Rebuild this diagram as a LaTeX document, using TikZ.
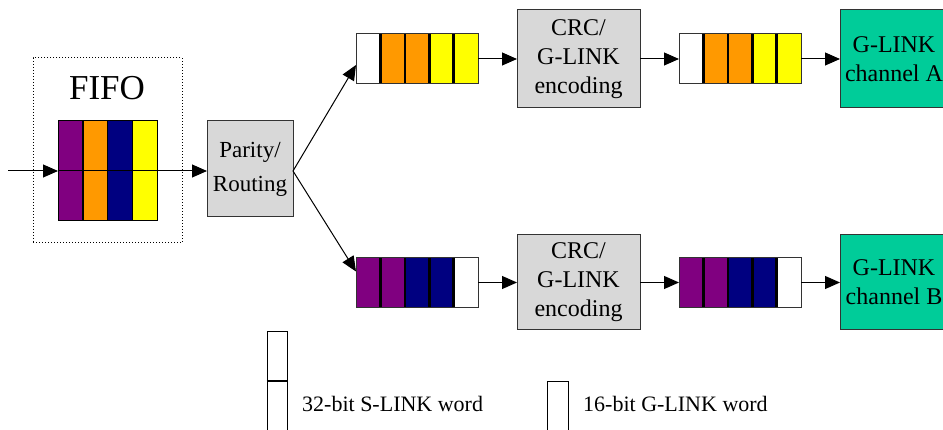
\documentclass[tikz,border=0pt]{standalone}
\usepackage{fontspec}
\setmainfont{Liberation Serif}
\newfontfamily\diagfont{Liberation Serif}
\usetikzlibrary{arrows.meta,calc}
\definecolor{wpurple}{RGB}{128,0,128}
\definecolor{worange}{RGB}{255,153,0}
\definecolor{wnavy}{RGB}{0,0,128}
\definecolor{wyellow}{RGB}{255,255,0}
\definecolor{gteal}{RGB}{0,204,153}
\definecolor{boxgray}{RGB}{216,216,216}

% a row of five word cells, named #1, centred at (#2,#3), colours #4
\newcommand{\wordrow}[4]{%
  \node[minimum width=122pt, minimum height=50pt, inner sep=0pt, outer sep=0pt] (#1) at (#2,#3) {};
  \foreach \c [count=\i from 0] in {#4}
    \fill[\c] ($(#1.north west)+(\i*24.4,0)$) rectangle ++(24.4,50);
  \foreach \i in {1,...,4}
    \draw[line width=2.6pt] ($(#1.north west)+(\i*24.4,0)$) -- ++(0,50);
  \draw[line width=1pt, draw=black!80] (#1.north west) rectangle (#1.south east);
}

\begin{document}
\begin{tikzpicture}[x=1pt,y=-1pt,
  box/.style={draw=black!80, line width=1pt, fill=boxgray, inner sep=0pt, outer sep=0pt,
    align=center, font=\diagfont\fontsize{24}{29}\selectfont},
  chan/.style={box, fill=gteal},
  flow/.style={-{Triangle[length=15pt,width=13pt]}, line width=1pt},
  legtext/.style={anchor=base west, inner sep=0pt, font=\diagfont\fontsize{22}{22}\selectfont},
]
\useasboundingbox (0,0) rectangle (943,430);

% FIFO block
\node[draw, dotted, line width=1pt, minimum width=149pt, minimum height=185pt,
  inner sep=0pt] (fifo) at (107.5,150.5) {};
\node[font=\diagfont\fontsize{35}{35}\selectfont, inner sep=0pt] (fifolbl) at (107,88) {FIFO};
\node[minimum width=99pt, minimum height=100pt, inner sep=0pt, outer sep=0pt] (fbar) at (107.5,171) {};
\foreach \c [count=\i from 0] in {wpurple,worange,wnavy,wyellow}
  \fill[\c] ($(fbar.north west)+(\i*24.75,0)$) rectangle ++(24.75,100);
\foreach \i in {1,2,3}
  \draw[line width=1.5pt] ($(fbar.north west)+(\i*24.75,0)$) -- ++(0,100);
\draw[line width=1pt] (fbar.west) -- (fbar.east);
\draw[line width=1pt] (fbar.north west) rectangle (fbar.south east);

% routing
\node[box, minimum width=86pt, minimum height=96pt, font=\diagfont\fontsize{23}{34}\selectfont]
  (par) at (250,169) {Parity/\\Routing};

% channel A
\wordrow{qa1}{417}{59}{white,worange,worange,wyellow,wyellow}
\node[box, minimum width=123pt, minimum height=98pt] (crca) at (578.5,59) {CRC/\\G-LINK\\encoding};
\wordrow{qa2}{740}{59}{white,worange,worange,wyellow,wyellow}
\node[chan, minimum width=108pt, minimum height=98pt] (cha) at (894,59) {G-LINK\\channel A};

% channel B
\wordrow{qb1}{417}{282.5}{wpurple,wpurple,wnavy,wnavy,white}
\node[box, minimum width=123pt, minimum height=95pt] (crcb) at (578.5,282.5) {CRC/\\G-LINK\\encoding};
\wordrow{qb2}{740}{282.5}{wpurple,wpurple,wnavy,wnavy,white}
\node[chan, minimum width=108pt, minimum height=95pt] (chb) at (894,282.5) {G-LINK\\channel B};

% connectors
\coordinate (in) at (8,171);
\draw[flow] (in) -- (fbar.west);
\draw[flow] (fbar.east) -- (par.west |- fbar.east);
\draw[flow] (par.east |- fbar.east) -- ($(qa1.west)+(0,6)$);
\draw[flow] (par.east |- fbar.east) -- ($(qb1.west)+(0,-11)$);
\draw[flow] (qa1.east) -- (crca.west |- qa1.east);
\draw[flow] (crca.east |- qa2.west) -- (qa2.west);
\draw[flow] (qa2.east) -- (cha.west |- qa2.east);
\draw[flow] (qb1.east) -- (crcb.west |- qb1.east);
\draw[flow] (crcb.east |- qb2.west) -- (qb2.west);
\draw[flow] (qb2.east) -- (chb.west |- qb2.east);

% legend
\node[draw, line width=1pt, minimum width=20pt, minimum height=108pt, inner sep=0pt] (lg32) at (277,386) {};
\draw[line width=2pt] (lg32.west |- 0,381) -- (lg32.east |- 0,381);
\node[legtext] (t32) at (302,412) {32-bit S-LINK word};
\node[draw, line width=1pt, minimum width=21pt, minimum height=58pt, inner sep=0pt] (lg16) at (557.5,411) {};
\node[legtext] (t16) at (583,412) {16-bit G-LINK word};
\end{tikzpicture}
\end{document}
